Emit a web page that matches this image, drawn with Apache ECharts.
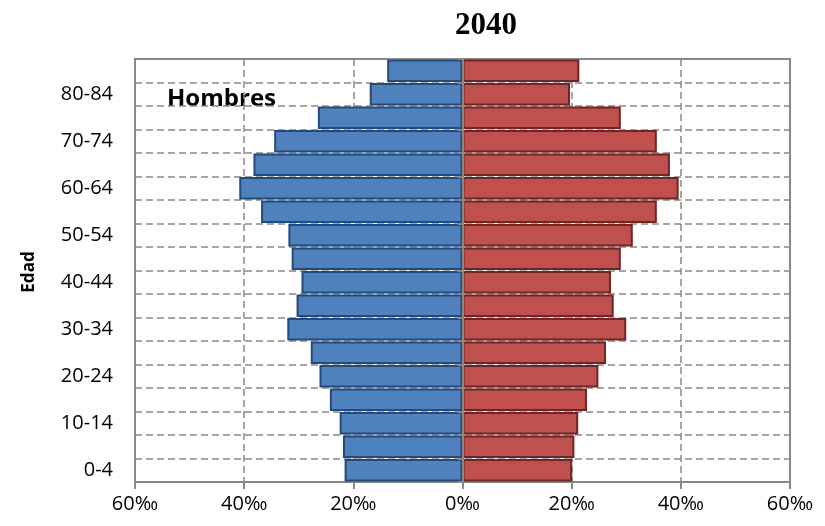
<!DOCTYPE html>
<html>
<head>
<meta charset="utf-8">
<script src="https://cdn.jsdelivr.net/npm/echarts@6/dist/echarts.min.js"></script>
<style>
html,body{margin:0;padding:0;background:#fff;}
#c{width:825px;height:526px;}
</style>
</head>
<body>
<div id="c"></div>
<script>
var ageGroups = ['0-4','5-9','10-14','15-19','20-24','25-29','30-34','35-39','40-44','45-49','50-54','55-59','60-64','65-69','70-74','75-79','80-84','85+'];
var hombres = [21.6,21.9,22.5,24.3,26.2,27.8,32.1,30.4,29.5,31.3,31.9,36.9,40.9,38.3,34.5,26.5,17.0,13.8];
var mujeres = [20.1,20.5,21.2,22.8,24.9,26.3,30.0,27.7,27.2,29.0,31.2,35.6,39.6,38.0,35.6,29.0,19.7,21.4];
var xTicks = [-60,-40,-20,0,20,40,60];
var titleText = '2040';

var chart = echarts.init(document.getElementById('c'));
var gridCol = '#888888';
chart.setOption({
  animation: false,
  title: {
    text: titleText, left: 481, top: 5, textAlign: 'center',
    textStyle: {fontFamily: 'Liberation Serif', fontWeight: 'bold', fontSize: 31, color: '#000'}
  },
  grid: {left: 135, right: 35, top: 59, bottom: 44, show: true, borderColor: gridCol, borderWidth: 2, containLabel: false},
  xAxis: {
    type: 'value', min: xTicks[0], max: xTicks[xTicks.length-1], interval: 20,
    axisLine: {show: true, onZero: false, lineStyle: {color: gridCol, width: 2}},
    axisTick: {show: true, length: 7, lineStyle: {color: gridCol, width: 2}},
    axisLabel: {formatter: function(v){return Math.abs(v) + '‰';}, fontFamily: 'Open Sans', fontSize: 20, color: '#000', margin: 12},
    splitLine: {show: true, lineStyle: {color: gridCol, width: 1.5, type: [7,4]}}
  },
  yAxis: [{
    type: 'category', data: ageGroups, boundaryGap: true,
    axisLine: {show: true, onZero: false, lineStyle: {color: gridCol, width: 2}},
    axisTick: {show: false},
    axisLabel: {interval: 1, fontFamily: 'Open Sans', fontSize: 20, color: '#000', margin: 22},
    splitLine: {show: true, interval: 0, lineStyle: {color: gridCol, width: 1.5, type: [7,4]}}
  },{
    type: 'category', data: ageGroups, boundaryGap: true, position: 'left', z: 5,
    axisLine: {show: true, onZero: true, lineStyle: {color: gridCol, width: 2}},
    axisTick: {show: true, length: 5, interval: 0, lineStyle: {color: gridCol, width: 2}},
    axisLabel: {show: false},
    splitLine: {show: false}
  }],
  series: [{
    name: 'Hombres', type: 'bar', yAxisIndex: 0,
    data: hombres.map(function(v){return -v;}),
    barGap: '-100%', barCategoryGap: '4%',
    itemStyle: {color: '#4F81BD', borderColor: '#244A7C', borderWidth: 2}
  },{
    name: 'Mujeres', type: 'bar', yAxisIndex: 0,
    data: mujeres,
    barGap: '-100%', barCategoryGap: '4%',
    itemStyle: {color: '#C0504D', borderColor: '#6E2523', borderWidth: 2}
  }],
  graphic: [{
    type: 'text', left: 167, top: 87,
    style: {text: 'Hombres', fontFamily: 'Open Sans', fontWeight: 'bold', fontSize: 24, fill: '#000'}
  },{
    type: 'text', x: 29, y: 272, rotation: Math.PI/2,
    style: {text: 'Edad', fontFamily: 'Open Sans', fontWeight: 'bold', fontSize: 17, fill: '#000', align: 'center', verticalAlign: 'middle'}
  }]
});
</script>
</body>
</html>
